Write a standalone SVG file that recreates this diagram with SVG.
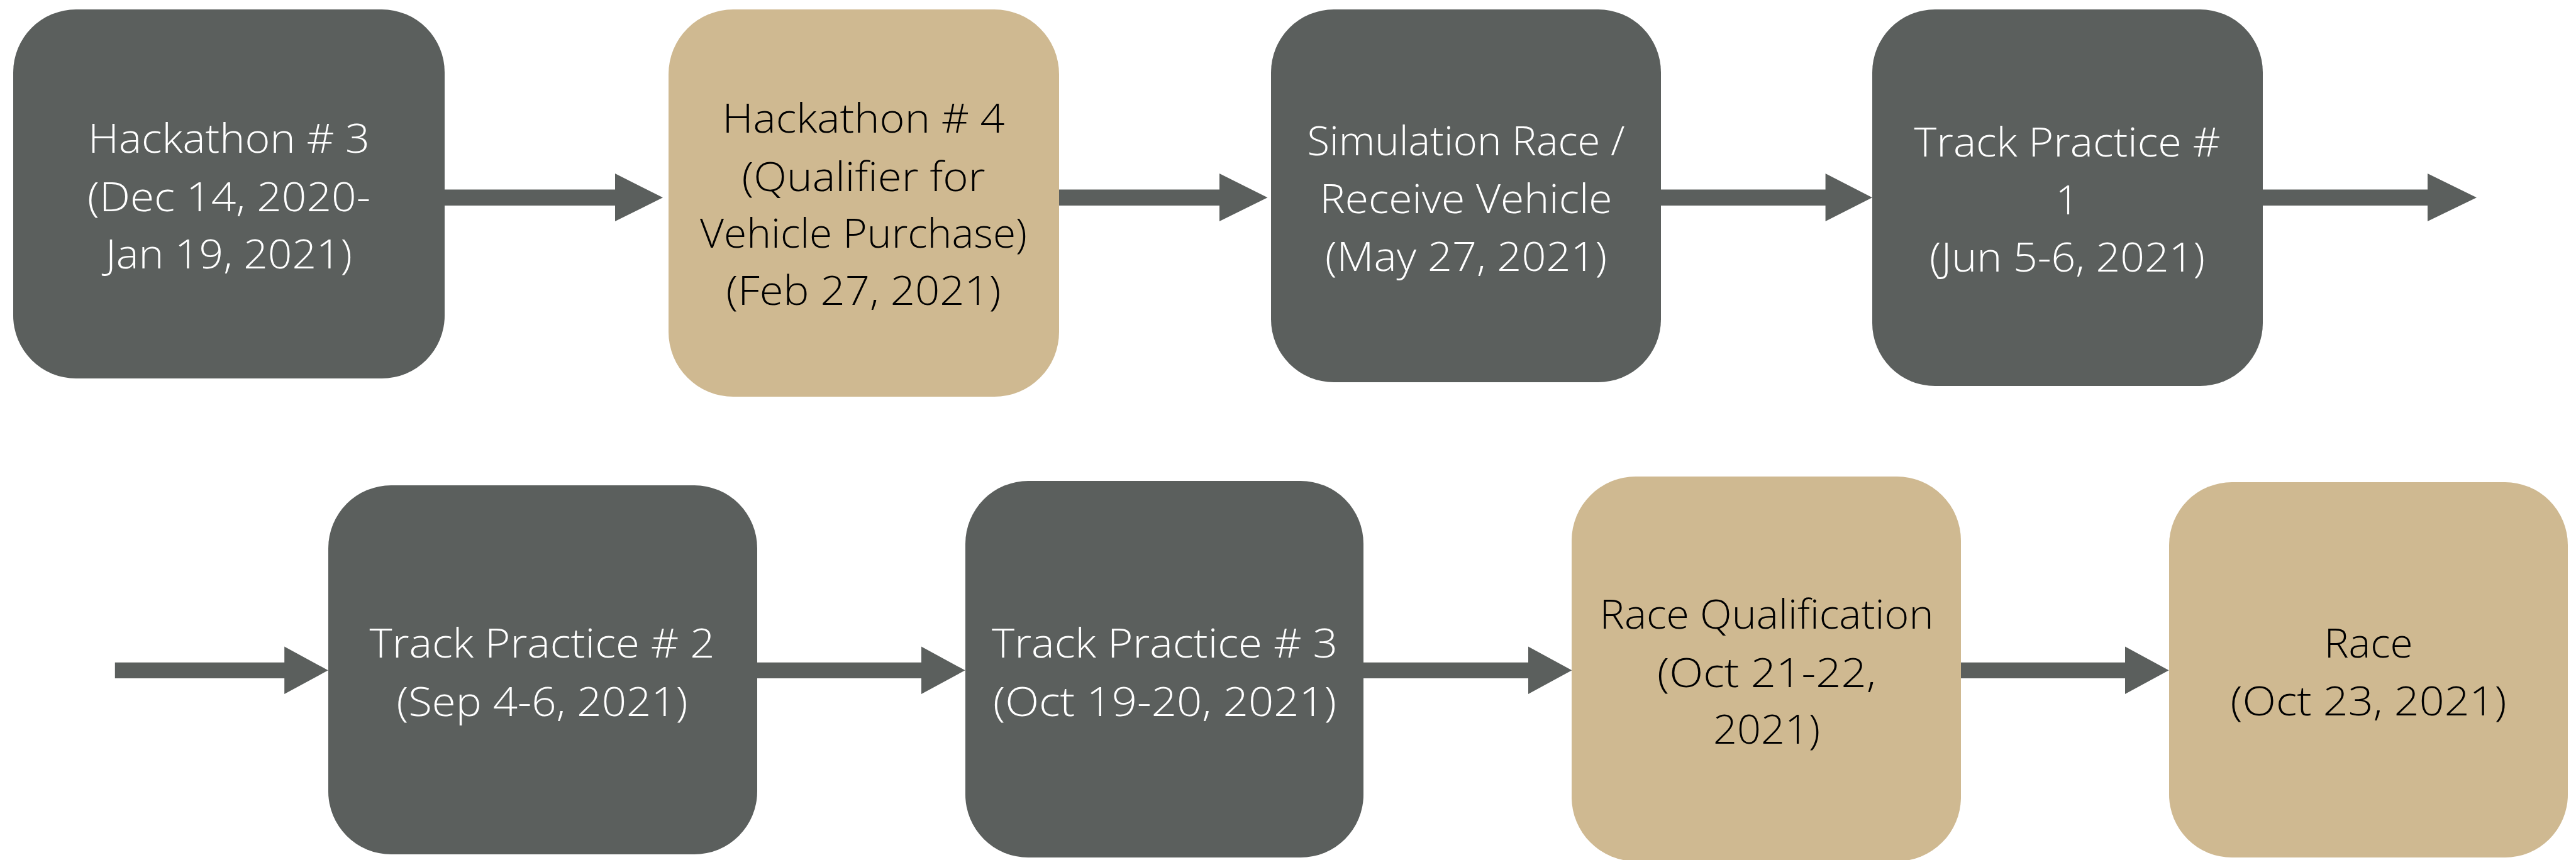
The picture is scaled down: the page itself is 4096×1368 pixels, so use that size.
<svg xmlns="http://www.w3.org/2000/svg" width="4096" height="1368" viewBox="0 0 4096 1368">
<style>
.gray{fill:#5B5F5D}
.gold{fill:#CFB991}
.arrow{fill:#5B5F5D}
text{font-family:"Open Sans","Lato","Noto Sans",sans-serif;font-weight:300;font-size:64px;text-anchor:middle}
.w{fill:#FFFFFF}
.k{fill:#000000}
</style>
<rect width="4096" height="1368" fill="#FFFFFF"/>
<g id="connectors">
<polygon class="arrow" points="707,301.6 978,301.6 978,276 1054,314.3 978,352 978,327 707,327"/>
<polygon class="arrow" points="1684,301.6 1939,301.6 1939,276 2015.5,314.3 1939,352 1939,327 1684,327"/>
<polygon class="arrow" points="2641,301.6 2902.6,301.6 2902.6,276 2977,314.3 2902.6,352 2902.6,327 2641,327"/>
<polygon class="arrow" points="3598,301.6 3860,301.6 3860,276 3938,314.3 3860,352 3860,327 3598,327"/>
<polygon class="arrow" points="182.8,1053.8 452.2,1053.8 452.2,1028.6 521.7,1066.3 452.2,1104 452.2,1078.9 182.8,1078.9"/>
<polygon class="arrow" points="1204,1053.8 1465,1053.8 1465,1028.6 1534.6,1066.3 1465,1104 1465,1078.9 1204,1078.9"/>
<polygon class="arrow" points="2168,1053.8 2430,1053.8 2430,1028.6 2499.4,1066.3 2430,1104 2430,1078.9 2168,1078.9"/>
<polygon class="arrow" points="3118,1053.8 3379,1053.8 3379,1028.6 3448.6,1066.3 3379,1104 3379,1078.9 3118,1078.9"/>
</g>
<g id="node-hackathon3">
<rect class="gray" x="21" y="15" width="686" height="587" rx="100" ry="100"/>
<text class="w" x="364" y="243" textLength="448" lengthAdjust="spacingAndGlyphs">Hackathon # 3</text>
<text class="w" x="364" y="335.7" textLength="450" lengthAdjust="spacingAndGlyphs">(Dec 14, 2020-</text>
<text class="w" x="364" y="426.8" textLength="392" lengthAdjust="spacingAndGlyphs">Jan 19, 2021)</text>
</g>
<g id="node-hackathon4">
<rect class="gold" x="1063" y="15" width="621" height="616" rx="103" ry="103"/>
<text class="k" x="1373" y="211.2" textLength="449" lengthAdjust="spacingAndGlyphs">Hackathon # 4</text>
<text class="k" x="1373" y="303.8" textLength="387" lengthAdjust="spacingAndGlyphs">(Qualifier for</text>
<text class="k" x="1373" y="394" textLength="520" lengthAdjust="spacingAndGlyphs">Vehicle Purchase)</text>
<text class="k" x="1373" y="485.2" textLength="437" lengthAdjust="spacingAndGlyphs">(Feb 27, 2021)</text>
</g>
<g id="node-simulation">
<rect class="gray" x="2021" y="15" width="620" height="593" rx="100" ry="100"/>
<text class="w" x="2331" y="246.5" textLength="505" lengthAdjust="spacingAndGlyphs">Simulation Race /</text>
<text class="w" x="2331" y="338.5" textLength="465" lengthAdjust="spacingAndGlyphs">Receive Vehicle</text>
<text class="w" x="2331" y="431.4" textLength="448" lengthAdjust="spacingAndGlyphs">(May 27, 2021)</text>
</g>
<g id="node-track1">
<rect class="gray" x="2977" y="15" width="621" height="599" rx="100" ry="100"/>
<text class="w" x="3287" y="248.9" textLength="487" lengthAdjust="spacingAndGlyphs">Track Practice #</text>
<text class="w" x="3287" y="341.1">1</text>
<text class="w" x="3287" y="432.3" textLength="438" lengthAdjust="spacingAndGlyphs">(Jun 5-6, 2021)</text>
</g>
<g id="node-track2">
<rect class="gray" x="522" y="772" width="682" height="587" rx="100" ry="100"/>
<text class="w" x="862" y="1046" textLength="549" lengthAdjust="spacingAndGlyphs">Track Practice # 2</text>
<text class="w" x="862" y="1138.6" textLength="463" lengthAdjust="spacingAndGlyphs">(Sep 4-6, 2021)</text>
</g>
<g id="node-track3">
<rect class="gray" x="1535" y="765" width="633" height="599" rx="100" ry="100"/>
<text class="w" x="1852" y="1046" textLength="550" lengthAdjust="spacingAndGlyphs">Track Practice # 3</text>
<text class="w" x="1852" y="1138.8" textLength="546" lengthAdjust="spacingAndGlyphs">(Oct 19-20, 2021)</text>
</g>
<g id="node-race-qualification">
<rect class="gold" x="2499" y="758" width="619" height="612" rx="102" ry="102"/>
<text class="k" x="2809" y="999.7" textLength="531" lengthAdjust="spacingAndGlyphs">Race Qualification</text>
<text class="k" x="2809" y="1092.8" textLength="348" lengthAdjust="spacingAndGlyphs">(Oct 21-22,</text>
<text class="k" x="2809" y="1183.1" textLength="170" lengthAdjust="spacingAndGlyphs">2021)</text>
</g>
<g id="node-race">
<rect class="gold" x="3449" y="767" width="634" height="597" rx="100" ry="100"/>
<text class="k" x="3766" y="1046" textLength="141" lengthAdjust="spacingAndGlyphs">Race</text>
<text class="k" x="3766" y="1138.4" textLength="439" lengthAdjust="spacingAndGlyphs">(Oct 23, 2021)</text>
</g>
</svg>
